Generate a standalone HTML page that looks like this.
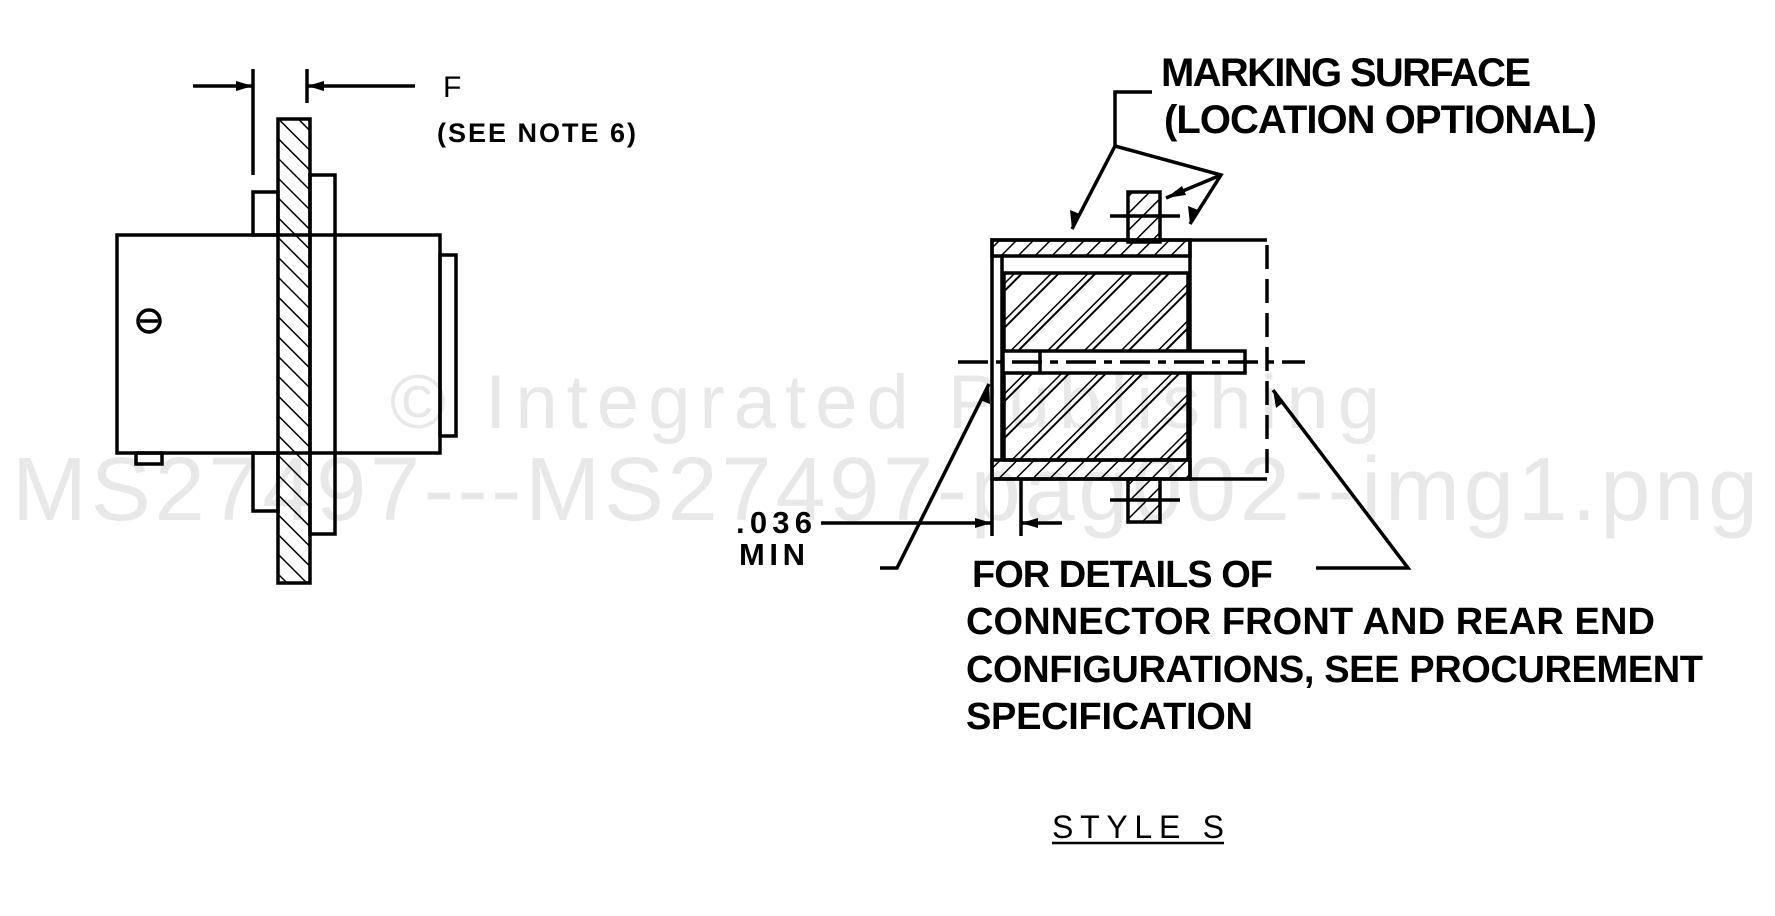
<!DOCTYPE html>
<html><head><meta charset="utf-8"><style>
html,body{margin:0;padding:0;background:#fff}
svg{display:block}
.b{font-family:"Liberation Sans",sans-serif;font-weight:bold;fill:#000}
</style></head><body>
<svg width="1775" height="916" viewBox="0 0 1775 916" xmlns="http://www.w3.org/2000/svg">
<defs>
<pattern id="h" width="14" height="14" patternUnits="userSpaceOnUse" patternTransform="rotate(-45)">
<line x1="0" y1="0" x2="0" y2="14" stroke="#000" stroke-width="3"/></pattern>
<pattern id="h2" width="26" height="26" patternUnits="userSpaceOnUse" patternTransform="rotate(45)">
<line x1="0" y1="0" x2="0" y2="26" stroke="#000" stroke-width="3"/><line x1="6" y1="0" x2="6" y2="26" stroke="#000" stroke-width="2"/></pattern>
<pattern id="h3" width="12" height="12" patternUnits="userSpaceOnUse" patternTransform="rotate(45)">
<line x1="0" y1="0" x2="0" y2="12" stroke="#000" stroke-width="3"/></pattern>
</defs>
<text x="390" y="428" font-family="Liberation Sans,sans-serif" font-size="76" fill="#e8e8e8" textLength="990">© Integrated Publishing</text>
<text x="12" y="520" font-family="Liberation Sans,sans-serif" font-size="90" fill="#e8e8e8" textLength="1746">MS27497---MS27497-pag002--img1.png</text>

<g stroke="#000" stroke-width="3.5" fill="none">
<rect x="117" y="235" width="323" height="218"/>
<rect x="440" y="255" width="16" height="181"/>
<rect x="253" y="192" width="25" height="43"/>
<rect x="253" y="453" width="25" height="58"/>
<rect x="136" y="453" width="26" height="11"/>
<rect x="310" y="175" width="25" height="359"/>
<rect x="278" y="119" width="32" height="464" fill="url(#h)"/>
<circle cx="149" cy="321" r="11"/>
<line x1="140" y1="321" x2="158" y2="321"/>
<line x1="253" y1="69" x2="253" y2="175"/>
<line x1="307" y1="69" x2="307" y2="103"/>
<line x1="193" y1="86" x2="253" y2="86"/>
<line x1="307" y1="86" x2="415" y2="86"/>
</g>
<polygon points="253,86 236,81 236,91" fill="#000"/>
<polygon points="307,86 324,81 324,91" fill="#000"/>
<text x="443" y="97" font-family="Liberation Sans,sans-serif" font-size="30" fill="#000">F</text>
<text class="b" x="437" y="142" font-size="27" textLength="199">(SEE NOTE 6)</text>

<g stroke="#000" stroke-width="3.5" fill="none">
<rect x="1004" y="273" width="184" height="82" fill="url(#h2)"/>
<rect x="1004" y="372" width="184" height="88" fill="url(#h2)"/>
<rect x="992" y="240" width="198" height="16" fill="url(#h3)"/>
<rect x="992" y="460" width="198" height="19" fill="url(#h3)"/>
<rect x="1128" y="192" width="32" height="50" fill="url(#h3)"/>
<rect x="1128" y="479" width="32" height="43" fill="url(#h3)"/>
<rect x="992" y="240" width="198" height="239"/>
<line x1="1002" y1="256" x2="1002" y2="460"/>
<rect x="1003" y="351" width="242" height="22" fill="#fff"/>
<line x1="1040" y1="351" x2="1040" y2="373"/>
<line x1="958" y1="362" x2="1305" y2="362" stroke-dasharray="30,8,8,8"/>
<line x1="1190" y1="240" x2="1267" y2="240"/>
<line x1="1190" y1="479" x2="1267" y2="479"/>
<line x1="1267" y1="245" x2="1267" y2="475" stroke-dasharray="24,10"/>
<line x1="1110" y1="216" x2="1180" y2="216"/>
<line x1="1110" y1="500" x2="1180" y2="500"/>
<polyline points="1152,92 1115,92 1115,146 1072,229"/>
<polyline points="1115,146 1221,175 1190,224"/>
<line x1="1221" y1="175" x2="1166" y2="198"/>
<polyline points="880,568 897,568 989,384"/>
<polyline points="1316,568 1408,568 1273,390"/>
<line x1="821" y1="523" x2="992" y2="523"/>
<line x1="1021" y1="523" x2="1062" y2="523"/>
<line x1="992" y1="479" x2="992" y2="536"/>
<line x1="1021" y1="479" x2="1021" y2="536"/>
</g>
<polygon points="1072,229 1070,210 1080,214" fill="#000"/>
<polygon points="1190,224 1188,206 1198,210" fill="#000"/>
<polygon points="1166,198 1182,186 1186,195" fill="#000"/>
<polygon points="989,384 980,400 990,404" fill="#000"/>
<polygon points="1273,390 1276,408 1284,402" fill="#000"/>
<polygon points="992,523 975,518 975,528" fill="#000"/>
<polygon points="1021,523 1038,518 1038,528" fill="#000"/>

<text class="b" x="736" y="533" font-size="31" textLength="76">.036</text>
<text class="b" x="739" y="565" font-size="31" textLength="66">MIN</text>
<text class="b" x="1161" y="86" font-size="40" textLength="370">MARKING SURFACE</text>
<text class="b" x="1164" y="133" font-size="40" textLength="433">(LOCATION OPTIONAL)</text>
<text class="b" x="972" y="587" font-size="38" textLength="301">FOR DETAILS OF</text>
<text class="b" x="966" y="634" font-size="38" textLength="689">CONNECTOR FRONT AND REAR END</text>
<text class="b" x="966" y="682" font-size="38" textLength="737">CONFIGURATIONS, SEE PROCUREMENT</text>
<text class="b" x="966" y="729" font-size="38" textLength="287">SPECIFICATION</text>
<text x="1052" y="838" font-family="Liberation Sans,sans-serif" font-size="32" fill="#000" textLength="172">STYLE  S</text>
<line x1="1052" y1="843" x2="1224" y2="843" stroke="#000" stroke-width="2.5"/>
</svg>
</body></html>
